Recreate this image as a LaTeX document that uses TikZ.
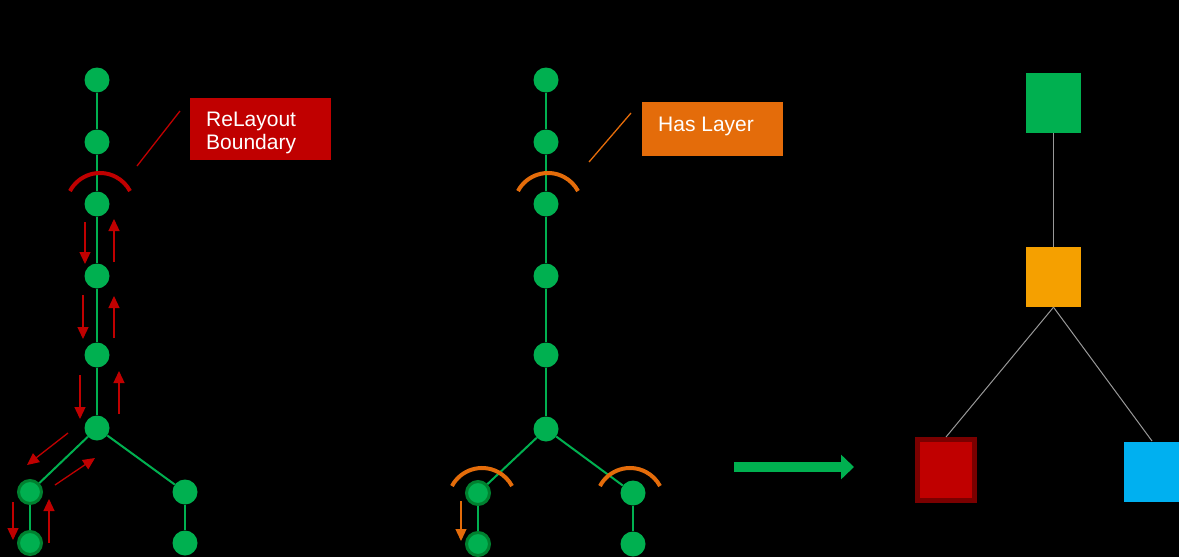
\documentclass[tikz,border=0pt]{standalone}
\usepackage{fontspec}
\setmainfont{Liberation Sans}
\usetikzlibrary{arrows.meta}
\definecolor{ngreen}{HTML}{00B050}
\definecolor{dgreen}{HTML}{00802F}
\definecolor{ared}{HTML}{C00000}
\definecolor{aorange}{HTML}{E46C0A}
\definecolor{sorange}{HTML}{F5A000}
\definecolor{sblue}{HTML}{00B0F0}
\definecolor{dred}{HTML}{7A0000}
\begin{document}
\begin{tikzpicture}[x=1pt,y=-1pt,
  gnode/.style={circle,fill=ngreen,minimum size=25pt,inner sep=0pt},
  rnode/.style={circle,fill=ngreen,draw=dgreen,line width=3pt,minimum size=23pt,inner sep=0pt},
  edge/.style={ngreen,line width=2pt},
  redarr/.style={ared,line width=1.3pt,-{Triangle[length=12pt,width=11pt]}},
  orarr/.style={aorange,line width=1.3pt,-{Triangle[length=12pt,width=11pt]}},
  redarc/.style={ared,line width=4pt},
  orarc/.style={aorange,line width=4pt},
  gline/.style={draw=gray!80,line width=1pt},
  lbl/.style={text=white,font=\fontsize{21}{22}\selectfont,anchor=base west,inner sep=0pt}
]
\useasboundingbox[fill=black] (0,0) rectangle (1179,557);
% left tree
\node[gnode] (a1) at (97,80) {};
\node[gnode] (a2) at (97,142) {};
\node[gnode] (a3) at (97,204) {};
\node[gnode] (a4) at (97,276) {};
\node[gnode] (a5) at (97,355) {};
\node[gnode] (a6) at (97,428) {};
\node[rnode] (a7) at (30,492) {};
\node[rnode] (a8) at (30,543) {};
\node[gnode] (a9) at (185,492) {};
\node[gnode] (a10) at (185,543) {};
\draw[edge] (a1) -- (a2);
\draw[edge] (a2) -- (a3);
\draw[edge] (a3) -- (a4);
\draw[edge] (a4) -- (a5);
\draw[edge] (a5) -- (a6);
\draw[edge] (a6) -- (a7);
\draw[edge] (a7) -- (a8);
\draw[edge] (a6) -- (a9);
\draw[edge] (a9) -- (a10);
% red arc
\draw[redarc] (a3.center) ++(3,3) ++(208:34) arc[start angle=208,end angle=332,radius=34];
% red callout
\node[fill=ared,minimum width=141pt,minimum height=62pt,anchor=north west,inner sep=0pt] (rbox) at (190,98) {};
\node[lbl] (rtxt1) at (206,126) {ReLayout};
\node[lbl] (rtxt2) at (206,149) {Boundary};
\coordinate (rc1) at (137,166);
\coordinate (rc2) at (180,111);
\draw[ared,line width=1.3pt] (rc1) -- (rc2);
% red arrows
\coordinate (d1s) at (85,222); \coordinate (d1e) at (85,264);
\coordinate (u1s) at (114,262); \coordinate (u1e) at (114,219);
\coordinate (d2s) at (83,295); \coordinate (d2e) at (83,339);
\coordinate (u2s) at (114,338); \coordinate (u2e) at (114,296);
\coordinate (d3s) at (80,375); \coordinate (d3e) at (80,419);
\coordinate (u3s) at (119,414); \coordinate (u3e) at (119,371);
\coordinate (d4s) at (68,433); \coordinate (d4e) at (27,465);
\coordinate (u4s) at (55,485); \coordinate (u4e) at (95,458);
\coordinate (d5s) at (13,502); \coordinate (d5e) at (13,540);
\coordinate (u5s) at (49,543); \coordinate (u5e) at (49,499);
\foreach \n in {1,...,5}{
  \draw[redarr] (d\n s) -- (d\n e);
  \draw[redarr] (u\n s) -- (u\n e);
}
% middle tree
\node[gnode] (b1) at (546,80) {};
\node[gnode] (b2) at (546,142) {};
\node[gnode] (b3) at (546,204) {};
\node[gnode] (b4) at (546,276) {};
\node[gnode] (b5) at (546,355) {};
\node[gnode] (b6) at (546,429) {};
\node[rnode] (b7) at (478,493) {};
\node[rnode] (b8) at (478,544) {};
\node[gnode] (b9) at (633,493) {};
\node[gnode] (b10) at (633,544) {};
\draw[edge] (b1) -- (b2);
\draw[edge] (b2) -- (b3);
\draw[edge] (b3) -- (b4);
\draw[edge] (b4) -- (b5);
\draw[edge] (b5) -- (b6);
\draw[edge] (b6) -- (b7);
\draw[edge] (b7) -- (b8);
\draw[edge] (b6) -- (b9);
\draw[edge] (b9) -- (b10);
% orange arcs
\draw[orarc] (b3.center) ++(2,3) ++(208:34) arc[start angle=208,end angle=332,radius=34];
\draw[orarc] (b7.center) ++(4,9) ++(208:34) arc[start angle=208,end angle=332,radius=34];
\draw[orarc] (b9.center) ++(-3,9) ++(208:34) arc[start angle=208,end angle=332,radius=34];
% orange callout
\node[fill=aorange,minimum width=141pt,minimum height=54pt,anchor=north west,inner sep=0pt] (obox) at (642,102) {};
\node[lbl] (otxt) at (658,131) {Has Layer};
\coordinate (oc1) at (589,162);
\coordinate (oc2) at (631,113);
\draw[aorange,line width=1.3pt] (oc1) -- (oc2);
\coordinate (o1s) at (461,501); \coordinate (o1e) at (461,541);
\draw[orarr] (o1s) -- (o1e);
% big green arrow
\coordinate (g1) at (734,467);
\coordinate (g2) at (854,467);
\draw[ngreen,line width=10pt,-{Triangle[length=13pt,width=24pt]}] (g1) -- (g2);
% right tree
\node[fill=ngreen,minimum width=55pt,minimum height=60pt,inner sep=0pt] (s1) at (1053.5,103) {};
\node[fill=sorange,minimum width=55pt,minimum height=60pt,inner sep=0pt] (s2) at (1053.5,277) {};
\node[fill=ared,draw=dred,line width=5pt,minimum width=57pt,minimum height=61pt,inner sep=0pt] (s3) at (946,470) {};
\node[fill=sblue,minimum width=60pt,minimum height=60pt,inner sep=0pt,anchor=north west] (s4) at (1124,442) {};
\draw[gline] (s1.south) -- (s2.north);
\draw[gline] (s2.south) -- (s3.north);
\coordinate (s4t) at (1152,441);
\draw[gline] (s2.south) -- (s4t);
\end{tikzpicture}
\end{document}
